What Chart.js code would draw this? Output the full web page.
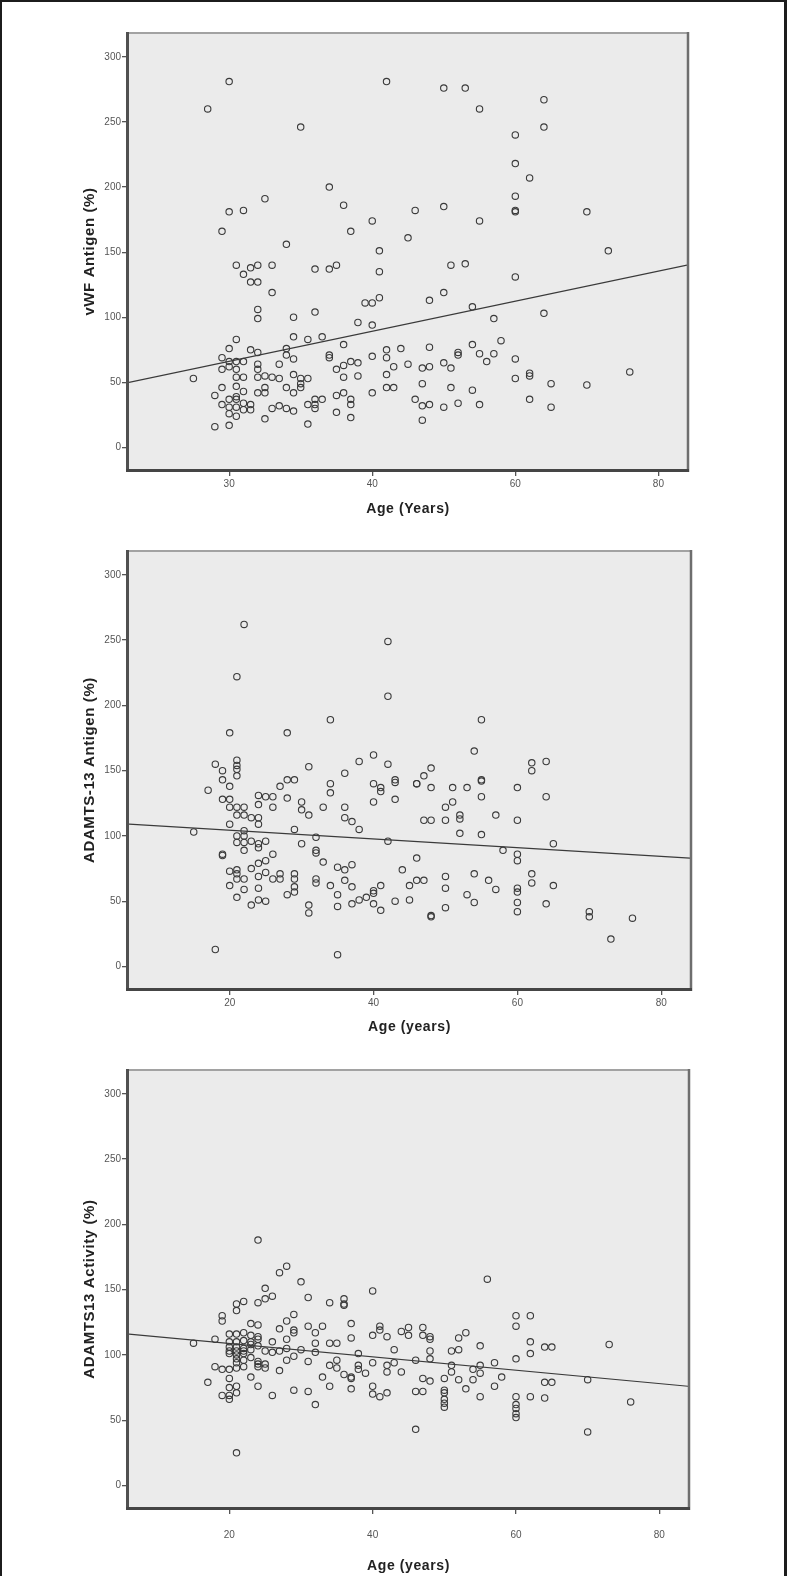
<!DOCTYPE html>
<html>
<head>
<meta charset="utf-8">
<script src="https://cdn.jsdelivr.net/npm/chart.js@4.4.1/dist/chart.umd.min.js"></script>
<style>
  html, body { margin: 0; padding: 0; background: #fff; }
  body { width: 787px; height: 1576px; position: relative; overflow: hidden; }
  .panel { position: absolute; left: 0; width: 787px; }
  #frame {
    position: absolute; left: 0; top: 0; width: 787px; height: 1576px;
    box-sizing: border-box; border: 2px solid #1c1c1c; border-right-width: 3px; border-bottom: none;
    pointer-events: none;
  }
</style>
</head>
<body>
<div class="panel" style="top:0px;height:520px"><canvas id="chart1" width="787" height="520"></canvas></div>
<div class="panel" style="top:520px;height:520px"><canvas id="chart2" width="787" height="520"></canvas></div>
<div class="panel" style="top:1040px;height:536px"><canvas id="chart3" width="787" height="536"></canvas></div>
<div id="frame"></div>

<script>
// Axis ticks

const xTicks = [20, 40, 60, 80];
const yTicks = [0, 50, 100, 150, 200, 250, 300];
const xTickLabels1 = ['30', '40', '60', '80'];
const xTickLabels = ['20', '40', '60', '80'];

// vWF Antigen vs age

const vwfAge = [
  17, 20, 30, 42, 25, 20, 22, 19, 34, 36, 37, 40, 41, 41, 28, 21, 24, 26, 23, 22, 32, 34, 35,
  50, 53, 55, 64, 64, 60, 60, 62, 60, 60, 60, 70, 46, 50, 55, 45, 73, 51, 53, 60,
  23, 24, 26, 24, 24, 29, 32, 39, 40, 41, 38, 40,
  29, 31, 33, 21, 36, 20, 23, 24, 28, 28, 29, 34, 34, 19, 20, 21, 22, 19, 20, 21, 21, 22, 24, 24, 24, 25, 26, 27, 27, 29, 30, 31, 30,
  35, 36, 37, 38, 36, 38, 40, 42, 42, 15, 19, 18, 19, 21, 22, 21, 20, 21, 22, 23, 21, 20, 22, 23, 20, 21, 20, 18,
  24, 25, 25, 26, 27, 28, 29, 28, 29, 30, 25, 31, 31, 32, 32, 33, 32, 35, 35, 36, 37, 37, 37, 40, 42, 42,
  48, 50, 54, 57, 64,
  44, 43, 43, 45, 47, 48, 48, 47, 46, 47, 48, 47, 50, 51, 52, 52, 51, 50, 52, 54, 55, 56, 57, 58, 54, 55,
  60, 60, 62, 62, 62, 65, 65, 70, 76
];
const vwfAntigen = [
  260, 281, 246, 281, 191, 181, 182, 166, 200, 186, 166, 174, 151, 135, 156, 140, 140, 140, 138, 133, 137, 137, 140,
  276, 276, 260, 267, 246, 240, 218, 207, 193, 181, 182, 181, 182, 185, 174, 161, 151, 140, 141, 131,
  127, 127, 119, 106, 99, 100, 104, 111, 111, 115, 96, 94,
  85, 83, 85, 83, 79, 76, 75, 73, 76, 71, 68, 71, 69, 69, 66, 66, 66, 60, 62, 60, 54, 54, 64, 60, 54, 55, 54, 64, 53, 56, 53, 53, 49,
  60, 63, 66, 65, 54, 55, 70, 75, 69, 53, 46, 40, 33, 47, 43, 39, 37, 37, 34, 33, 31, 31, 29, 29, 26, 24, 17, 16,
  42, 42, 46, 30, 32, 30, 28, 46, 42, 46, 22, 18, 33, 33, 37, 37, 30, 27, 40, 42, 37, 33, 23, 42, 46, 56,
  113, 119, 108, 99, 103,
  76, 62, 46, 64, 61, 62, 77, 49, 37, 32, 33, 21, 65, 61, 71, 73, 46, 31, 34, 79, 72, 66, 72, 82, 44, 33,
  68, 53, 57, 55, 37, 49, 31, 48, 58
];
const vwfFitX = [6, 84];
const vwfFitY = [50, 140];

// ADAMTS-13 Antigen vs age

const adamtsAgAge = [
  22, 21, 20, 28, 34, 42, 42, 31, 36, 38, 40, 42, 18, 19, 19, 21, 21, 21, 21, 27, 28, 29, 34, 40, 41, 17, 20,
  55, 54, 48, 43, 47, 46, 62, 62, 64, 55, 48, 51, 53, 60,
  15, 19, 20, 20, 21, 22, 20, 21, 22, 23, 24, 24, 24, 24, 25, 26, 26, 28, 30, 30, 31, 34, 33, 36, 36, 37, 38, 41, 40,
  29, 22, 21, 22, 21, 22, 23, 24, 24, 25, 22, 30, 32, 32, 32, 42, 19, 19, 26, 25, 24, 23, 33,
  20, 21, 21, 21, 22, 24, 25, 26, 27, 27, 29, 29, 28, 29, 29, 20, 21, 22, 24, 23, 24, 25,
  32, 32, 34, 35, 35, 36, 36, 37, 35, 37, 37, 38, 39, 40, 40, 41, 40, 41, 31, 31, 18, 35,
  43, 43, 46, 55, 55, 64, 50, 51, 47, 48, 50, 52, 52, 57, 60, 52, 55, 58, 60, 60, 65, 46, 44,
  45, 46, 47, 50, 50, 54, 56, 57, 62, 62, 65, 60, 60, 60, 60, 53, 54, 43, 45, 50, 48, 48, 64, 70, 70, 76, 73
];
const adamtsAntigen = [
  262, 222, 179, 179, 189, 249, 207, 153, 148, 157, 162, 155, 155, 150, 143, 158, 154, 151, 146, 138, 143, 143, 140, 140, 137, 135, 138,
  189, 165, 152, 143, 146, 140, 156, 150, 157, 143, 137, 137, 137, 137,
  103, 128, 128, 122, 122, 122, 109, 116, 116, 114, 114, 109, 131, 124, 130, 130, 122, 129, 126, 120, 116, 133, 122, 122, 114, 111, 105, 134, 126,
  105, 104, 100, 100, 95, 95, 96, 94, 91, 96, 89, 94, 99, 89, 87, 96, 85, 86, 86, 81, 79, 75, 80,
  73, 74, 71, 67, 67, 69, 72, 67, 67, 71, 71, 67, 55, 57, 61, 62, 53, 59, 60, 47, 51, 50,
  67, 64, 62, 55, 46, 66, 74, 78, 76, 61, 48, 51, 53, 56, 58, 62, 48, 43, 47, 41, 13, 9,
  141, 128, 140, 142, 130, 130, 122, 126, 112, 112, 112, 116, 113, 116, 112, 102, 101, 89, 86, 81, 94, 83, 74,
  62, 66, 66, 69, 60, 71, 66, 59, 71, 64, 62, 60, 57, 49, 42, 55, 49, 50, 51, 45, 38, 39, 48, 42, 38, 37, 21
];
const adamtsAgFitX = [6, 84];
const adamtsAgFitY = [109, 83];

// ADAMTS13 Activity vs age

const adamtsActAge = [
  24, 28, 27, 30, 25, 40, 26, 31, 21, 22, 24, 25, 34, 36, 36, 56,
  21, 36, 19, 19, 23, 24, 60, 62, 60, 29, 28, 27, 29, 29, 31, 33, 32, 37, 37, 41, 41, 40, 42, 44, 45, 45, 47, 47, 48, 48,
  52, 53, 62, 62, 64, 65, 73, 55, 60, 15, 18,
  20, 21, 22, 23, 24, 20, 21, 22, 23, 24, 20, 21, 22, 23, 24, 20, 21, 22, 23, 25, 20, 21, 22, 21, 22, 23, 24, 21, 24, 25, 22, 24, 25,
  26, 26, 28, 28, 27, 29, 28, 30, 31, 32, 32, 34, 35, 34, 35, 35, 33, 34, 32, 31, 29, 26, 27, 24, 23, 17, 18, 19, 20, 21, 20, 20, 20, 21, 21, 19, 20, 21,
  36, 37, 37, 37, 38, 38, 39, 40, 38, 40, 40, 41, 42, 42, 42, 43, 43, 44, 46, 46, 47, 47, 48, 48, 48, 46,
  50, 50, 50, 50, 50, 50, 51, 51, 51, 52, 52, 53, 54, 54, 55, 55, 55, 57, 57, 58,
  60, 60, 60, 60, 60, 62, 64, 65, 64, 70, 70, 76
];
const adamtsActivity = [
  188, 168, 163, 156, 151, 149, 145, 144, 139, 141, 140, 143, 140, 143, 139, 158,
  134, 138, 130, 126, 124, 123, 130, 130, 122, 131, 126, 120, 119, 117, 122, 122, 117, 124, 113, 122, 119, 115, 114, 118, 121, 115, 121, 115, 114, 112,
  113, 117, 110, 101, 106, 106, 108, 107, 97, 109, 112,
  116, 116, 117, 115, 114, 110, 110, 111, 110, 112, 106, 106, 105, 108, 107, 103, 103, 103, 104, 103, 101, 100, 101, 97, 96, 98, 95, 94, 93, 93, 91, 91, 90,
  110, 102, 112, 105, 103, 99, 96, 104, 95, 102, 109, 109, 109, 92, 96, 90, 83, 76, 62, 72, 73, 69, 88, 76, 83, 79, 91, 89, 89, 90, 82, 75, 69, 76, 71, 69, 66, 25,
  85, 83, 74, 82, 92, 89, 86, 94, 101, 76, 70, 68, 71, 92, 87, 94, 104, 87, 96, 72, 72, 82, 80, 103, 97, 43,
  82, 73, 71, 66, 63, 60, 103, 92, 87, 104, 81, 74, 89, 81, 92, 86, 68, 94, 76, 83,
  68, 62, 59, 55, 52, 68, 79, 79, 67, 81, 41, 64
];
const adamtsActFitX = [6, 84];
const adamtsActFitY = [116, 76];

// Helpers

function toPoints(xs, ys) {
  return xs.map((x, i) => ({ x: x, y: ys[i] }));
}

const fontFamily = "'Liberation Sans', Arial, sans-serif";

// grey plot box with SPSS-like frame
const plotBox = {
  id: 'plotBox',
  beforeDraw(chart) {
    const { ctx, chartArea: a } = chart;
    // axis titles are a little spaced out (titles draw before datasets)
    ctx.letterSpacing = '0.6px';
    ctx.save();
    ctx.fillStyle = '#ebebeb';
    ctx.fillRect(a.left, a.top, a.right - a.left, a.bottom - a.top);
    ctx.restore();
  },
  afterDatasetsDraw(chart) {
    const { ctx, chartArea: a } = chart;
    // tick labels (z: 1) come after this, with normal spacing
    ctx.letterSpacing = '0px';
    ctx.save();
    ctx.strokeStyle = '#a2a2a2';
    ctx.lineWidth = 2;
    ctx.beginPath(); ctx.moveTo(a.left, a.top - 1); ctx.lineTo(a.right + 2, a.top - 1); ctx.stroke();
    ctx.strokeStyle = '#6e6e6e';
    ctx.lineWidth = 2.5;
    ctx.beginPath(); ctx.moveTo(a.right + 1, a.top - 2); ctx.lineTo(a.right + 1, a.bottom); ctx.stroke();
    ctx.strokeStyle = '#505050';
    ctx.lineWidth = 3;
    ctx.beginPath(); ctx.moveTo(a.left - 1.5, a.top - 2); ctx.lineTo(a.left - 1.5, a.bottom + 3); ctx.stroke();
    ctx.strokeStyle = '#454545';
    ctx.beginPath(); ctx.moveTo(a.left - 3, a.bottom + 1.5); ctx.lineTo(a.right + 2.2, a.bottom + 1.5); ctx.stroke();
    ctx.restore();
  }
};

function makeChart(id, cfg) {
  return new Chart(document.getElementById(id), {
    type: 'scatter',
    data: {
      datasets: [
        {
          data: toPoints(cfg.ages, cfg.values),
          pointStyle: 'circle',
          pointRadius: 3.2,
          borderWidth: 1.1,
          borderColor: '#3a3a3a',
          backgroundColor: 'rgba(0,0,0,0)',
        },
        {
          type: 'line',
          data: toPoints(cfg.fitX, cfg.fitY),
          borderColor: '#3a3a3a',
          borderWidth: 1.2,
          pointRadius: 0,
          fill: false,
        },
      ],
    },
    options: {
      responsive: false,
      animation: false,
      events: [],
      layout: { padding: { top: cfg.top, left: 75, right: cfg.right, bottom: 0 } },
      plugins: { legend: { display: false }, tooltip: { enabled: false } },
      scales: {
        x: {
          type: 'linear',
          min: 6,
          max: 84,
          afterBuildTicks: scale => { scale.ticks = xTicks.map(v => ({ value: v })); },
          afterFit: scale => { scale.height = cfg.xHeight; },
          grid: { drawOnChartArea: false, tickLength: 7, color: '#555', lineWidth: 1.3 },
          border: { display: false },
          ticks: {
            z: 1,
            padding: cfg.xTickPad,
            color: '#555',
            font: { family: fontFamily, size: 10 },
            callback: (v, i) => cfg.xLabels[i],
          },
          title: {
            display: true,
            text: cfg.xTitle,
            color: '#222',
            font: { family: fontFamily, size: 14, weight: 'bold' },
            padding: { top: 4, bottom: cfg.xTitlePad },
          },
        },
        y: {
          min: -16.5,
          max: 317.5,
          afterBuildTicks: scale => { scale.ticks = yTicks.map(v => ({ value: v })); },
          afterFit: scale => { scale.width = 54; },
          grid: { drawOnChartArea: false, tickLength: 7, color: '#555', lineWidth: 1.3 },
          border: { display: false },
          ticks: {
            z: 1,
            padding: 1,
            color: '#555',
            font: { family: fontFamily, size: 10 },
          },
          title: {
            display: true,
            text: cfg.yTitle,
            color: '#222',
            font: { family: fontFamily, size: 15, weight: 'bold' },
            padding: { top: 6, bottom: 4 },
          },
        },
      },
    },
    plugins: [plotBox],
  });
}

makeChart('chart1', {
  ages: vwfAge, values: vwfAntigen, fitX: vwfFitX, fitY: vwfFitY,
  xLabels: xTickLabels1, xTitle: 'Age (Years)', yTitle: 'vWF Antigen (%)',
  top: 34, right: 100, xHeight: 51, xTickPad: 2, xTitlePad: 2,
});

makeChart('chart2', {
  ages: adamtsAgAge, values: adamtsAntigen, fitX: adamtsAgFitX, fitY: adamtsAgFitY,
  xLabels: xTickLabels, xTitle: 'Age (years)', yTitle: 'ADAMTS-13 Antigen (%)',
  top: 32, right: 97, xHeight: 52, xTickPad: 2, xTitlePad: 4,
});

makeChart('chart3', {
  ages: adamtsActAge, values: adamtsActivity, fitX: adamtsActFitX, fitY: adamtsActFitY,
  xLabels: xTickLabels, xTitle: 'Age (years)', yTitle: 'ADAMTS13 Activity (%)',
  top: 31, right: 99, xHeight: 69, xTickPad: 15, xTitlePad: 1,
});
</script>
</body>
</html>
